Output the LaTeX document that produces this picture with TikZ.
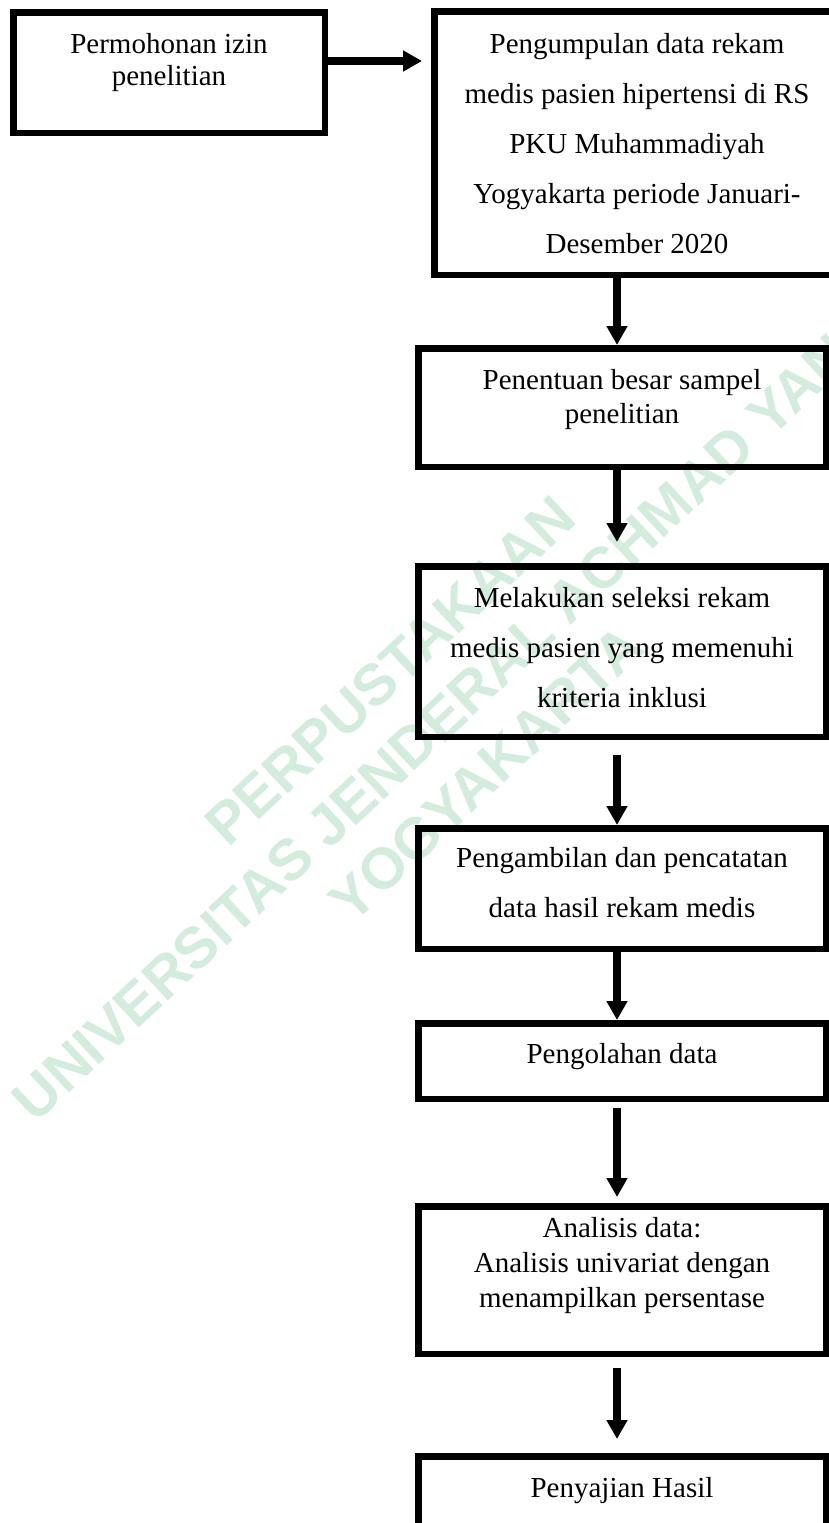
\documentclass[tikz,border=0pt]{standalone}
\usepackage{fontspec}
\setmainfont{Liberation Serif}
\newfontfamily\wmfont{Liberation Sans}
\usetikzlibrary{arrows.meta,positioning}
\definecolor{wmgreen}{RGB}{212,236,222}

\tikzset{
	box/.style={draw, line width=6.5pt, inner sep=0pt},
	lbl/.style={align=center, inner sep=0pt, anchor=north, font=\fontsize{29}{34}\selectfont},
	wide/.style={font=\fontsize{29}{50}\selectfont},
	arr/.style={line width=7.5pt, -{Triangle[width=20pt,length=19pt]}},
	stamp/.style={text=wmgreen, align=center, inner sep=0pt, font=\wmfont\bfseries\fontsize{58}{70}\selectfont}
}

\begin{document}
\begin{tikzpicture}[x=1pt,y=-1pt]
	\useasboundingbox (0,0) rectangle (829,1523);

	%WATERMARK
	\node[stamp, rotate=43] (cap) at (438,722) {PERPUSTAKAAN\\UNIVERSITAS JENDERAL ACHMAD YANI\\YOGYAKARTA};

	%BOXES
	\node[box, minimum width=311.5pt, minimum height=120.5pt] (izin) at (169,72.5) {};
	\node[box, minimum width=405.5pt, minimum height=263.5pt] (kumpul) at (637,143) {};
	\node[box, minimum width=407.5pt, minimum height=118.5pt] (sampel) at (622,407.5) {};
	\node[box, minimum width=407.5pt, minimum height=170.5pt] (seleksi) at (622,651.5) {};
	\node[box, minimum width=407.5pt, minimum height=120.5pt] (ambil) at (622,888.5) {};
	\node[box, minimum width=407.5pt, minimum height=75.5pt] (olah) at (622,1061) {};
	\node[box, minimum width=407.5pt, minimum height=147.5pt] (analisis) at (622,1280) {};
	\node[box, minimum width=407.5pt, minimum height=110.5pt] (saji) at (622,1511.5) {};

	%TEXTS
	\node[lbl, font=\fontsize{29}{32}\selectfont, below=24pt of izin.north] (izin-t) {Permohonan izin\\penelitian};
	\node[lbl, wide, below=25pt of kumpul.north] (kumpul-t) {Pengumpulan data rekam\\medis pasien hipertensi di RS\\PKU Muhammadiyah\\Yogyakarta periode Januari-\\Desember 2020};
	\node[lbl, below=24pt of sampel.north] (sampel-t) {Penentuan besar sampel\\penelitian};
	\node[lbl, wide, below=24pt of seleksi.north] (seleksi-t) {Melakukan seleksi rekam\\medis pasien yang memenuhi\\kriteria inklusi};
	\node[lbl, wide, below=22pt of ambil.north] (ambil-t) {Pengambilan dan pencatatan\\data hasil rekam medis};
	\node[lbl, below=23pt of olah.north] (olah-t) {Pengolahan data};
	\node[lbl, font=\fontsize{29}{35}\selectfont, below=14pt of analisis.north] (analisis-t) {Analisis data:\\Analisis univariat dengan\\menampilkan persentase};
	\node[lbl, below=24pt of saji.north] (saji-t) {Penyajian Hasil};

	%ARROWS
	\coordinate (pipe) at (617,0);
	\draw[arr, shorten >=9pt] ([yshift=11.5pt]izin.east) -- ([yshift=11.5pt]izin.east -| kumpul.west);
	\draw[arr] (kumpul.south -| pipe) -- (sampel.north -| pipe);
	\draw[arr, shorten >=21pt] (sampel.south -| pipe) -- (seleksi.north -| pipe);
	\draw[arr, shorten <=15pt] (seleksi.south -| pipe) -- (ambil.north -| pipe);
	\draw[arr] (ambil.south -| pipe) -- (olah.north -| pipe);
	\draw[arr, shorten <=6pt, shorten >=6pt] (olah.south -| pipe) -- (analisis.north -| pipe);
	\draw[arr, shorten <=11pt, shorten >=14pt] (analisis.south -| pipe) -- (saji.north -| pipe);
\end{tikzpicture}
\end{document}
